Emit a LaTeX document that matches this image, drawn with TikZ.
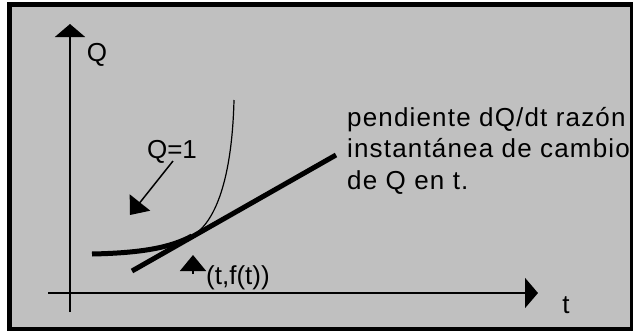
\documentclass[tikz,border=0pt]{standalone}
\usepackage{fontspec}
\setmainfont{Liberation Sans}
\usetikzlibrary{arrows.meta, positioning}
\definecolor{cpanel}{HTML}{C0C0C0}
\tikzset{
  every picture/.style={x=1pt, y=-1pt},
  frame/.style={draw=black, fill=cpanel, line width=5pt},
  axis/.style={line width=2pt, -{Triangle[length=13pt, width=30pt]}},
  pointer/.style={line width=1.5pt, -{Triangle[length=16pt, width=26pt]}},
  curve/.style={line width=1.2pt},
  thickline/.style={line width=5pt},
  label/.style={font=\fontsize{26}{31.5}\selectfont, inner sep=0pt},
  note/.style={font=\fontsize{26}{31.5}\selectfont\addfontfeature{LetterSpace=4.5},
    inner sep=0pt, align=left},
}

\begin{document}
\begin{tikzpicture}
  \useasboundingbox (0,0) rectangle (633,330);
  \draw[frame] (9.5,4.5) rectangle (632.5,329.5);
  % axes
  \coordinate (yfoot) at (70,312);
  \coordinate (ytop) at (70,24);
  \coordinate (xfoot) at (48,293);
  \coordinate (xend) at (538,293);
  \draw[axis] (yfoot) -- (ytop);
  \draw[axis] (xfoot) -- (xend);
  \node[label] (qaxis) at (97,55) {Q};
  \node[label, anchor=base] (taxis) at (566,313) {t};
  % curve and tangent
  \coordinate (p) at (192,236);
  \coordinate (tanlo) at (132,271);
  \coordinate (tanhi) at (336,155);
  \draw[thickline] (92,254) .. controls (140,253) and (170,248) .. (p);
  \draw[curve] (p) .. controls (215,223) and (232,180) .. (234,100);
  \draw[thickline] (tanlo) -- (tanhi);
  % labels
  \node[label] (qlab) at (172,152) {Q=1};
  \coordinate (qtip) at (130,215);
  \draw[pointer] (173,161) -- (qtip);
  \coordinate (ftail) at (193,274);
  \coordinate (ftip) at (193,255);
  \draw[pointer] (ftail) -- (ftip);
  \node[label, anchor=base west] (flab) at (206,284) {(t,f(t))};
  \node[note, anchor=base west] (slope) at (347,189)
    {pendiente dQ/dt razón\\instantánea de cambio\\de Q en t.};
\end{tikzpicture}
\end{document}
